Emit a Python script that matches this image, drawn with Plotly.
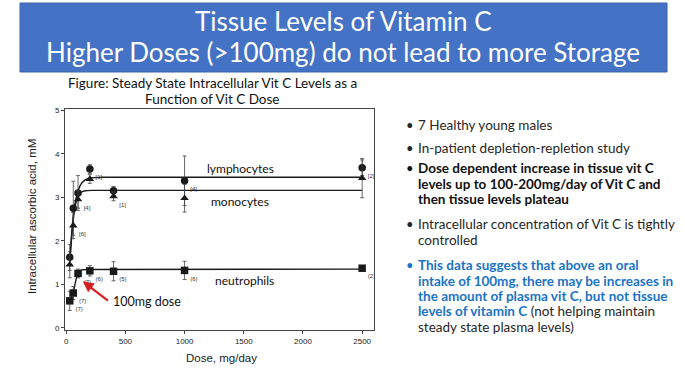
import plotly.graph_objects as go

W, H = 685, 372

# ---- data ----
doses = [30, 60, 100, 200, 400, 1000, 2500]
lymph = [1.62, 2.75, 3.10, 3.65, 3.15, 3.38, 3.68]
lymph_err = [0.30, 0.62, 0.40, 0.10, 0.10, 0.57, 0.18]
mono = [1.45, 2.35, 2.95, 3.42, 3.02, 2.98, 3.44]
mono_err = [0.30, 0.30, 0.20, 0.10, 0.10, 0.32, 0.45]
neut = [0.62, 0.80, 1.25, 1.31, 1.30, 1.32, 1.37]
neut_err = [0.22, 0.15, 0.10, 0.12, 0.22, 0.21, 0.05]

lymph_n = ["", "", "", "[1]", "", "[4]", "[2]"]
mono_n = ["[6]", "[6]", "[4]", "", "[1]", "", ""]
neut_n = ["(7)", "(7)", "(7)", "(6)", "(5)", "(6)", "(2)"]

fit_lymph_dose = [30, 50, 70, 90, 120, 160, 210, 300, 2500]
fit_lymph = [1.55, 2.30, 2.80, 3.05, 3.28, 3.40, 3.45, 3.46, 3.46]
fit_mono_dose = [30, 50, 70, 90, 120, 160, 230, 2500]
fit_mono = [1.50, 2.20, 2.70, 2.95, 3.10, 3.15, 3.16, 3.16]
fit_neut_dose = [30, 60, 100, 130, 200, 2500]
fit_neut = [0.60, 0.82, 1.27, 1.33, 1.34, 1.35]

xticks = [0, 500, 1000, 1500, 2000, 2500]
yticks = [0, 1, 2, 3, 4, 5]

title_lines = ["Tissue Levels of Vitamin C", "Higher Doses (>100mg) do not lead to more Storage"]
caption_lines = ["Figure: Steady State Intracellular Vit C Levels as a", "Function of Vit C Dose"]

# bullet groups: (lines, style)
bullets = [
    (["7 Healthy young males"], "normal"),
    (["In-patient depletion-repletion study"], "normal"),
    (["Dose dependent increase in tissue vit C",
      "levels up to 100-200mg/day of Vit C and",
      "then tissue levels plateau"], "bold"),
    (["Intracellular concentration of Vit C is tightly",
      "controlled"], "normal"),
    (["<b>This data suggests that above an oral</b>",
      "<b>intake of 100mg, there may be increases in</b>",
      "<b>the amount of plasma vit C, but not tissue</b>",
      "<b>levels of vitamin C</b> <span style='color:#262626'>(not helping maintain</span>",
      "<span style='color:#262626'>steady state plasma levels)</span>"], "blue"),
]
bullet_line_y = [[125], [148], [168, 184, 199], [224, 240], [265, 281, 296, 311, 327]]


def px(x):
    return x / W


def py(y):
    return 1 - y / H


FONT = "Lato"
fig = go.Figure()

ink = "#1a1a1a"
for dose_x, ys in [(fit_lymph_dose, fit_lymph), (fit_mono_dose, fit_mono), (fit_neut_dose, fit_neut)]:
    fig.add_trace(go.Scatter(x=dose_x, y=ys, mode="lines",
                             line=dict(color=ink, width=1.4, shape="spline", smoothing=0.6),
                             hoverinfo="skip", showlegend=False))

for ys, err, sym, labels in [(lymph, lymph_err, "circle", lymph_n),
                             (mono, mono_err, "triangle-up", mono_n),
                             (neut, neut_err, "square", neut_n)]:
    fig.add_trace(go.Scatter(
        x=doses, y=ys, mode="markers+text",
        marker=dict(symbol=sym, size=7.5, color=ink),
        error_y=dict(type="data", array=err, visible=True, color="#444", thickness=0.8, width=2),
        text=labels, textposition="bottom right",
        textfont=dict(size=6, color="#333", family="Arial"),
        showlegend=False))

# banner
fig.add_shape(type="rect", xref="paper", yref="paper", x0=px(20), x1=px(667), y0=py(72), y1=py(3),
              fillcolor="#4472C4", line=dict(color="#3b64ad", width=1), layer="below")
for t, yy in zip(title_lines, [21, 52]):
    fig.add_annotation(xref="paper", yref="paper", x=px(343), y=py(yy), text=t,
                       showarrow=False, font=dict(family=FONT, size=26, color="white"),
                       xanchor="center", yanchor="middle")

# chart caption
for t, yy in zip(caption_lines, [83, 99]):
    fig.add_annotation(xref="paper", yref="paper", x=px(212), y=py(yy), text=t,
                       showarrow=False, font=dict(family=FONT, size=13.5, color="#111"),
                       xanchor="center", yanchor="middle")

# axis titles
fig.add_annotation(xref="paper", yref="paper", x=px(221), y=py(358), text="Dose, mg/day",
                   showarrow=False, font=dict(family="Arial", size=11.5, color="#222"),
                   xanchor="center", yanchor="middle")
fig.add_annotation(xref="paper", yref="paper", x=px(32), y=py(217), text="Intracellular ascorbic acid, mM",
                   showarrow=False, textangle=-90, font=dict(family="Arial", size=11.5, color="#222"),
                   xanchor="center", yanchor="middle")

# curve labels
for t, xd, yv in [("lymphocytes", 1470, 3.66), ("monocytes", 1470, 2.91), ("neutrophils", 1510, 1.08)]:
    fig.add_annotation(x=xd, y=yv, text=t, showarrow=False, font=dict(family=FONT, size=12, color="#111"))

# 100mg dose arrow
fig.add_annotation(x=140, y=1.07, ax=365, ay=0.6, axref="x", ayref="y", text="", showarrow=True,
                   arrowhead=2, arrowsize=1, arrowwidth=2.2, arrowcolor="#d42020")
fig.add_annotation(x=380, y=0.6, text="100mg dose", showarrow=False, xanchor="left",
                   font=dict(family=FONT, size=12.5, color="#111"))

# bullets
for (lines, kind), ys in zip(bullets, bullet_line_y):
    if kind == "bold":
        col = "#111"
    elif kind == "blue":
        col = "#1a73c6"
    else:
        col = "#262626"
    fig.add_annotation(xref="paper", yref="paper", x=px(404), y=py(ys[0]), text="•", showarrow=False,
                       font=dict(family=FONT, size=13, color=col), xanchor="left", yanchor="middle")
    for ln, yy in zip(lines, ys):
        t = "<b>" + ln + "</b>" if kind == "bold" else ln
        fig.add_annotation(xref="paper", yref="paper", x=px(416), y=py(yy), text=t, showarrow=False,
                           align="left", font=dict(family=FONT, size=13.5, color=col),
                           xanchor="left", yanchor="middle")

fig.update_layout(
    width=W, height=H, margin=dict(l=0, r=0, t=0, b=0),
    paper_bgcolor="white", plot_bgcolor="white",
    xaxis=dict(domain=[px(65), px(374)], range=[-10, 2600], tickvals=xticks, ticks="outside", ticklen=3,
               showline=True, linecolor="#444", mirror=True, showgrid=False, zeroline=False,
               automargin=False, tickfont=dict(family="Arial", size=8, color="#222")),
    yaxis=dict(domain=[py(330), py(109)], range=[-0.05, 5.03], tickvals=yticks, ticks="outside", ticklen=3,
               showline=True, linecolor="#444", mirror=True, showgrid=False, zeroline=False,
               automargin=False, tickfont=dict(family="Arial", size=8, color="#222")),
)

fig.write_html("out.html", config={"displayModeBar": False},
               post_script="document.body.style.margin='0';document.body.style.overflow='hidden';")
